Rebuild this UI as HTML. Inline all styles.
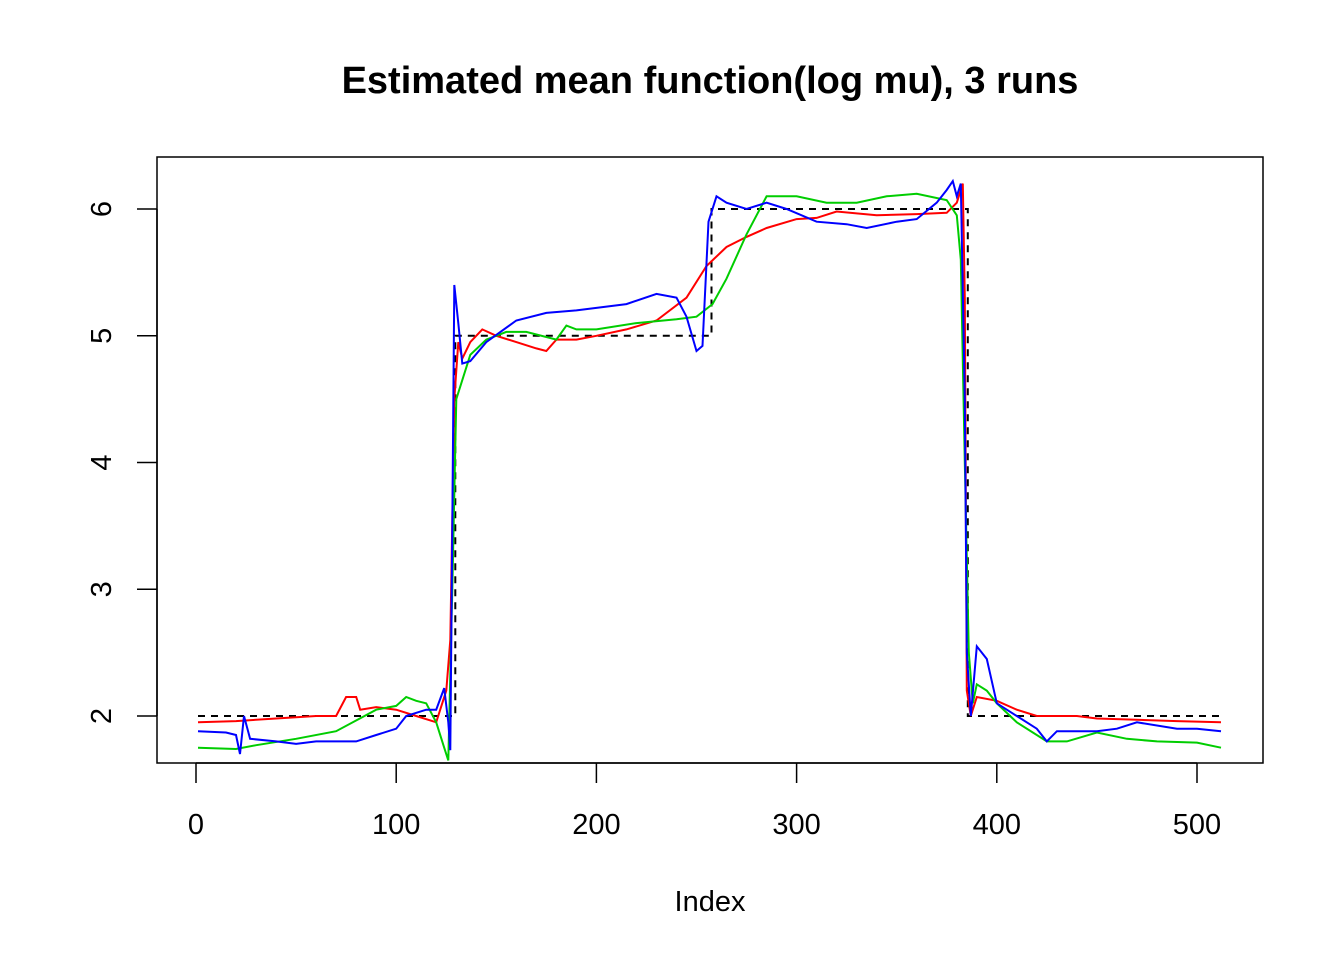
<!DOCTYPE html>
<html><head><meta charset="utf-8"><style>
html,body{margin:0;padding:0;background:#fff;}
svg text{font-family:"Liberation Sans",Arial,sans-serif;}
</style></head><body>
<svg id="chart" width="1344" height="960" xmlns="http://www.w3.org/2000/svg">
<rect width="1344" height="960" fill="#fff"/>
<text x="710" y="93" font-size="38" font-weight="bold" text-anchor="middle">Estimated mean function(log mu), 3 runs</text>
<text x="710" y="911" font-size="29" text-anchor="middle">Index</text>
<rect x="157" y="157" width="1106" height="606" fill="none" stroke="#000" stroke-width="1.5"/>
<g id="axes"></g>
<g id="series"></g>
</svg>
<script>
const xTicks=[0,100,200,300,400,500];
const yTicks=[2,3,4,5,6];
const redIdx=[1,20,40,60,70,75,80,82,90,100,110,120,125,127,129,131,133,137,143,150,160,170,175,180,190,200,215,230,245,255,265,275,285,300,310,320,340,360,375,380,383,384,385,387,390,400,410,420,440,450,470,490,512];
const redVal=[1.95,1.96,1.98,2.0,2.0,2.15,2.15,2.05,2.07,2.05,2.0,1.95,2.2,2.6,4.5,4.95,4.82,4.95,5.05,5.0,4.95,4.9,4.88,4.97,4.97,5.0,5.05,5.12,5.3,5.55,5.7,5.78,5.85,5.92,5.93,5.98,5.95,5.96,5.97,6.05,6.2,5.3,2.2,2.0,2.15,2.12,2.05,2.0,2.0,1.98,1.97,1.96,1.95];
const greenIdx=[1,20,30,50,70,90,100,105,110,115,120,124,126,128,130,133,137,145,155,165,180,185,190,200,220,240,250,258,265,275,285,300,315,330,345,360,375,380,382,384,386,388,390,395,400,410,425,435,450,465,480,500,512];
const greenVal=[1.75,1.74,1.77,1.82,1.88,2.05,2.08,2.15,2.12,2.1,1.95,1.75,1.65,3.0,4.5,4.65,4.85,4.97,5.03,5.03,4.97,5.08,5.05,5.05,5.1,5.13,5.15,5.25,5.45,5.8,6.1,6.1,6.05,6.05,6.1,6.12,6.07,5.95,5.6,4.0,2.5,2.1,2.25,2.2,2.1,1.95,1.8,1.8,1.87,1.82,1.8,1.79,1.75];
const blueIdx=[1,15,20,22,24,27,40,50,60,70,80,90,100,105,115,120,124,126,127,128,129,131,133,137,145,160,175,190,200,215,230,240,245,250,253,256,260,265,275,285,295,310,325,335,350,360,370,375,378,380,382,384,385,387,390,395,400,410,420,425,430,450,460,470,490,500,512];
const blueVal=[1.88,1.87,1.85,1.7,2.0,1.82,1.8,1.78,1.8,1.8,1.8,1.85,1.9,2.0,2.05,2.05,2.22,1.95,1.73,3.5,5.4,5.1,4.78,4.8,4.95,5.12,5.18,5.2,5.22,5.25,5.33,5.3,5.15,4.88,4.92,5.9,6.1,6.05,6.0,6.05,6.0,5.9,5.88,5.85,5.9,5.92,6.05,6.15,6.22,6.1,6.2,4.5,2.5,2.0,2.55,2.45,2.1,2.0,1.9,1.8,1.88,1.88,1.9,1.95,1.9,1.9,1.88];
const trueIdx=[1,129.5,129.5,257.5,257.5,385.5,385.5,512];
const trueVal=[2,2,5,5,6,6,2,2];
const sx=v=>196+v*2.002;
const sy=v=>209+(6-v)*126.75;
const NS='http://www.w3.org/2000/svg';
const axes=document.getElementById('axes'), ser=document.getElementById('series');
function mk(tag,attrs,parent,text){const e=document.createElementNS(NS,tag);for(const k in attrs)e.setAttribute(k,attrs[k]);if(text!==undefined)e.textContent=text;parent.appendChild(e);return e;}
mk('line',{x1:sx(0),x2:sx(500),y1:763,y2:763,stroke:'#000','stroke-width':1.5},axes);
xTicks.forEach(t=>{
 const l=mk('line',{x1:sx(t),x2:sx(t),y1:763,y2:783,stroke:'#000','stroke-width':1.5},axes);
 
 
 const tx=mk('text',{x:sx(t),y:834,'font-size':29,'text-anchor':'middle'},axes,String(t));
 
 
});
mk('line',{x1:157,x2:157,y1:sy(2),y2:sy(6),stroke:'#000','stroke-width':1.5},axes);
yTicks.forEach(t=>{
 const l=mk('line',{x1:137,x2:157,y1:sy(t),y2:sy(t),stroke:'#000','stroke-width':1.5},axes);
 
 
 const tx=mk('text',{x:0,y:0,'font-size':29,'text-anchor':'middle',transform:`translate(111,${sy(t)}) rotate(-90)`},axes,String(t));
 
 
});
function line(idx,val,color,name,dash){
 const d=idx.map((x,i)=>(i?'L':'M')+sx(x).toFixed(1)+','+sy(val[i]).toFixed(1)).join('');
 const p=mk('path',{d:d,fill:'none',stroke:color,'stroke-width':2},ser);
 if(dash)p.setAttribute('stroke-dasharray','7,6');
 
 
}
line(trueIdx,trueVal,'#000','true-mean-dashed',true);
line(redIdx,redVal,'#ff0000','run-1-red-line');
line(greenIdx,greenVal,'#00cd00','run-2-green-line');
line(blueIdx,blueVal,'#0000ff','run-3-blue-line');
</script>
</body></html>
